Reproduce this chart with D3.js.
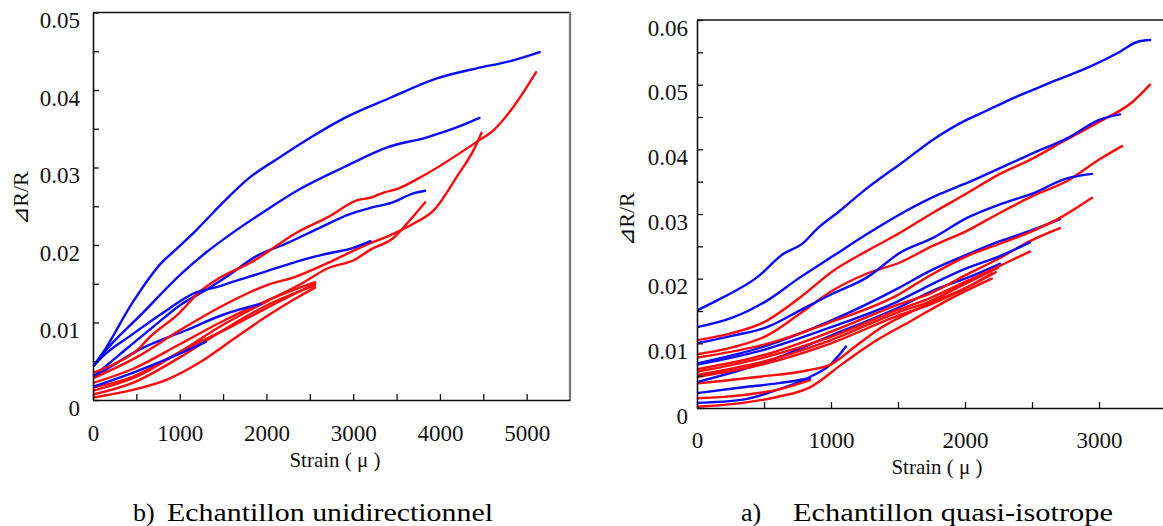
<!DOCTYPE html>
<html><head><meta charset="utf-8">
<script src="https://cdn.jsdelivr.net/npm/d3@7"></script>
<style>body{margin:0;background:#fff}</style>
</head><body>
<svg id="c" width="1163" height="526"></svg>
<script>
// ---------- DATA ----------
const xTicksUni = [0,500,1000,1500,2000,2500,3000,3500,4000,4500,5000];
const yTicksUni = [0,0.005,0.01,0.015,0.02,0.025,0.03,0.035,0.04,0.045,0.05];
const xTicksIso = [0,500,1000,1500,2000,2500,3000];
const yTicksIso = [0,0.005,0.01,0.015,0.02,0.025,0.03,0.035,0.04,0.045,0.05,0.055,0.06];
const captionUni = ["b)", "Echantillon unidirectionnel"];
const captionIso = ["a)", "Echantillon quasi-isotrope"];

// Unidirectional sample (left) — blue series
const uniB1 = [[0,0.0043],[114,0.0061],[457,0.0126],[789,0.0177],[914,0.019],[1189,0.0219],[1500,0.0255],[1794,0.0286],[2137,0.0312],[2514,0.0339],[2903,0.0364],[3429,0.039],[3966,0.0415],[4423,0.0428],[4800,0.0437],[5150,0.0449]];
const uniB2 = [[0,0.0043],[80,0.0055],[571,0.0112],[1029,0.0164],[1300,0.019],[1600,0.0215],[1943,0.0241],[2366,0.0271],[2903,0.0301],[3394,0.0326],[3851,0.0339],[4200,0.0352],[4457,0.0364]];
const uniB3 = [[0,0.003],[300,0.0058],[700,0.0095],[1000,0.0122],[1300,0.0142],[1566,0.0161],[1874,0.0185],[2251,0.0203],[2629,0.0223],[2937,0.0239],[3200,0.0248],[3429,0.0254],[3703,0.0267],[3829,0.027]];
const uniB4 = [[0,0.0043],[100,0.0055],[457,0.0085],[800,0.0112],[1189,0.0139],[1400,0.0145],[1600,0.0152],[1943,0.0164],[2331,0.0178],[2629,0.0187],[3017,0.0197],[3200,0.0205]];
const uniB5 = [[0,0.0028],[537,0.0065],[1074,0.009],[1500,0.011],[1931,0.0124]];
const uniB6 = [[0,0.0017],[457,0.0035],[900,0.0055],[1300,0.0075]];
// Unidirectional sample (left) — red series
const uniR1 = [[0,0.0035],[274,0.0048],[537,0.0067],[617,0.0077],[994,0.0112],[1223,0.0139],[1451,0.0157],[1829,0.0178],[2366,0.0217],[2709,0.0236],[3051,0.0258],[3200,0.0261],[3360,0.0268],[3474,0.0271],[3817,0.029],[4423,0.0333],[4617,0.0348],[4846,0.0378],[5109,0.0423]];
const uniR2 = [[0,0.0012],[500,0.003],[1000,0.0062],[1500,0.0097],[2000,0.0127],[2400,0.015],[2709,0.017],[3017,0.0181],[3200,0.0194],[3474,0.021],[3623,0.0228],[3829,0.0255]];
const uniR3 = [[0,0.0028],[500,0.0055],[1000,0.009],[1500,0.0122],[2000,0.0148],[2331,0.0159],[2709,0.0177],[3086,0.0197],[3474,0.0215],[3703,0.0228],[3931,0.0245],[4194,0.0288],[4400,0.0325],[4480,0.0345]];
const uniR4 = [[0,0.0022],[457,0.004],[1000,0.0072],[1500,0.0102],[2000,0.0128],[2560,0.0152]];
const uniR5 = [[0,0.0007],[457,0.0022],[1000,0.0055],[1500,0.009],[2000,0.0122],[2560,0.0148]];
const uniR6 = [[0,0.0003],[457,0.0013],[846,0.0026],[1223,0.0048],[1600,0.0077],[1989,0.0107],[2366,0.0133],[2560,0.0145]];
const uniR7 = [[0,0.0016],[457,0.003],[1000,0.0062],[1600,0.0095],[2200,0.013],[2560,0.015]];

// Quasi-isotropic sample (right) — blue series
const isoB1 = [[0,0.0151],[194,0.0171],[448,0.0202],[642,0.0238],[791,0.0255],[896,0.0277],[1067,0.0305],[1239,0.0335],[1440,0.0366],[1515,0.0377],[1761,0.0415],[2015,0.0446],[2164,0.046],[2336,0.0477],[2507,0.0492],[2657,0.0505],[2933,0.0528],[3157,0.0551],[3284,0.0566],[3381,0.0569]];
const isoB2 = [[0,0.0125],[269,0.014],[522,0.0166],[769,0.0202],[1015,0.0235],[1269,0.0269],[1493,0.0297],[1813,0.0331],[2015,0.0348],[2261,0.0371],[2507,0.0394],[2761,0.0417],[3007,0.0446],[3157,0.0454]];
const isoB3 = [[0,0.01],[269,0.0112],[522,0.0125],[769,0.0151],[1015,0.0177],[1269,0.0202],[1515,0.024],[1761,0.0263],[2015,0.0294],[2261,0.0315],[2507,0.0332],[2761,0.0355],[2948,0.0362]];
const isoB4 = [[0,0.0069],[500,0.0095],[1000,0.0135],[1500,0.0185],[1739,0.0212],[2000,0.0236],[2261,0.0258],[2500,0.0275],[2709,0.0292]];
const isoB5 = [[0,0.0067],[500,0.009],[1000,0.0125],[1500,0.0165],[1739,0.019],[2000,0.0215],[2261,0.0235],[2485,0.0256]];
const isoB6 = [[0,0.004],[500,0.007],[1000,0.0112],[1500,0.0155],[1800,0.0185],[2000,0.02],[2261,0.0223]];
const isoB7 = [[0,0.0008],[343,0.0013],[597,0.0028],[843,0.0048],[1000,0.0068],[1112,0.0095]];
const isoB8 = [[0,0.0023],[343,0.0032],[597,0.0038],[843,0.0046]];
// Quasi-isotropic sample (right) — red series
const isoR1 = [[0,0.0105],[246,0.0115],[493,0.0132],[769,0.0171],[1015,0.0212],[1269,0.0243],[1515,0.0271],[1761,0.0302],[2015,0.0332],[2261,0.0362],[2507,0.0386],[2731,0.0412],[3007,0.0443],[3254,0.0474],[3381,0.05]];
const isoR2 = [[0,0.0083],[269,0.0094],[522,0.0112],[769,0.0146],[1015,0.0182],[1269,0.0208],[1515,0.0225],[1761,0.0251],[2015,0.0274],[2261,0.0302],[2507,0.0328],[2761,0.0351],[3007,0.0385],[3172,0.0405]];
const isoR3 = [[0,0.0078],[500,0.0098],[1000,0.0133],[1500,0.0175],[1739,0.0205],[2015,0.0235],[2261,0.0254],[2507,0.0274],[2709,0.0294],[2948,0.0325]];
const isoR4 = [[0,0.006],[500,0.0082],[1000,0.0118],[1500,0.016],[1739,0.0177],[2000,0.0205],[2261,0.0232],[2485,0.0258],[2709,0.0278]];
const isoR5 = [[0,0.0056],[500,0.0078],[1000,0.011],[1500,0.0152],[1739,0.017],[2000,0.0195],[2261,0.022],[2485,0.0242]];
const isoR6 = [[0,0.0051],[500,0.0072],[1000,0.0105],[1500,0.0148],[1739,0.0165],[2000,0.0192],[2246,0.0217]];
const isoR7 = [[0,0.0048],[500,0.0068],[1000,0.01],[1500,0.0143],[1739,0.016],[2000,0.0185],[2200,0.0208]];
const isoR8 = [[0,0.0038],[448,0.0048],[821,0.0058],[1015,0.0069],[1142,0.0089],[1343,0.012],[1739,0.0162],[2000,0.0185],[2230,0.021]];
const isoR9 = [[0,0.0015],[343,0.002],[597,0.0028],[843,0.0043]];
const isoR10 = [[0,0.0002],[343,0.0008],[597,0.0017],[843,0.0032],[1090,0.0069],[1343,0.0105],[1600,0.0135],[1900,0.017],[2200,0.02]];

const uniBlue = [uniB1,uniB2,uniB3,uniB4,uniB5,uniB6];
const uniRed  = [uniR1,uniR2,uniR3,uniR4,uniR5,uniR6,uniR7];
const isoBlue = [isoB1,isoB2,isoB3,isoB4,isoB5,isoB6,isoB7,isoB8];
const isoRed  = [isoR1,isoR2,isoR3,isoR4,isoR5,isoR6,isoR7,isoR8,isoR9,isoR10];

// ---------- DRAW ----------
const svg = d3.select("#c");
const FONT = '"Liberation Serif"';
const BLUE = "#0a0aff", RED = "#ff0a0a";

function panel(o){
  const x = d3.scaleLinear().domain(o.xDom).range(o.xRange);
  const y = d3.scaleLinear().domain(o.yDom).range(o.yRange);
  const g = svg.append("g");
  const clipId = "clip"+o.id;
  svg.append("clipPath").attr("id",clipId).append("rect")
    .attr("x",o.xRange[0]).attr("y",o.yRange[1]).attr("width",o.xRange[1]-o.xRange[0]).attr("height",o.yRange[0]-o.yRange[1]);

  const line = d3.line().x(d=>x(d[0])).y(d=>y(d[1])).curve(d3.curveMonotoneX);
  const lg = g.append("g").attr("clip-path",`url(#${clipId})`);
  const all = [];
  o.blue.forEach(s=>all.push({s,c:BLUE}));
  o.red.forEach(s=>all.push({s,c:RED}));
  all.sort((a,b)=> (a.s[0][1]) - (b.s[0][1]));
  lg.selectAll("path").data(all).join("path")
    .attr("d",d=>line(d.s)).attr("fill","none").attr("stroke",d=>d.c)
    .attr("stroke-width",2.4).attr("stroke-linejoin","round").attr("stroke-linecap","round");

  g.append("line").attr("x1",o.xRange[0]).attr("x2",o.xRange[1]).attr("y1",o.yRange[1]).attr("y2",o.yRange[1])
    .attr("stroke","#111").attr("stroke-width",1.5);
  if(o.rightBorder){
    g.append("line").attr("x1",o.xRange[1]).attr("x2",o.xRange[1]).attr("y1",o.yRange[1]-0.7).attr("y2",o.yRange[0])
      .attr("stroke","#777").attr("stroke-width",2.2);
  }

  const xa = d3.axisBottom(x).tickValues(o.xTicks).tickSizeInner(-6).tickSizeOuter(0).tickPadding(o.xPad)
    .tickFormat(d=> d%1000===0 ? d3.format("d")(d) : "");
  const gx = g.append("g").attr("transform",`translate(0,${o.yRange[0]})`).call(xa);
  gx.select(".domain").attr("stroke","#111").attr("stroke-width",1.6);
  gx.selectAll(".tick line").attr("stroke","#111").attr("stroke-width",1.3);
  gx.selectAll("text").style("font-family",FONT).style("font-size","23px").attr("fill","#111");

  const ya = d3.axisLeft(y).tickValues(o.yTicks).tickSizeInner(-6).tickSizeOuter(0).tickPadding(o.yPad)
    .tickFormat(d=> Math.abs(Math.round(d*100)-d*100)<1e-9 ? (d===0?"0":d3.format(".2f")(d)) : "");
  const gy = g.append("g").attr("transform",`translate(${o.xRange[0]},0)`).call(ya);
  gy.select(".domain").attr("stroke","#111").attr("stroke-width",1.6);
  gy.selectAll(".tick line").attr("stroke","#111").attr("stroke-width",1.3);
  gy.selectAll("text").style("font-family",FONT).style("font-size","23px").attr("fill","#111").attr("dy","0.66em");

  g.append("text").attr("x",o.xTitle[0]).attr("y",o.xTitle[1]).attr("text-anchor","middle")
    .style("font-family",FONT).style("font-size","21px").attr("fill","#111").text("Strain ( μ )");

  g.append("text").attr("transform",`translate(${o.yTitle[0]},${o.yTitle[1]}) rotate(-90)`)
    .attr("text-anchor","middle").style("font-family",FONT).style("font-size","22px").attr("fill","#111")
    .text("⊿R/R");

  g.append("text").attr("x",o.cap[0]).attr("y",o.cap[2]).style("font-family",FONT).style("font-size","26px").attr("fill","#000")
    .text(o.capText[0]);
  g.append("text").attr("x",o.cap[1]).attr("y",o.cap[2]).style("font-family",FONT).style("font-size","26px").attr("fill","#000")
    .attr("textLength",o.cap[3]).attr("lengthAdjust","spacingAndGlyphs").text(o.capText[1]);
}

panel({id:"u", xDom:[0,5500], xRange:[93,570], yDom:[0,0.05], yRange:[400,12.5],
  xTicks:xTicksUni, yTicks:yTicksUni, blue:uniBlue, red:uniRed, rightBorder:true, yPad:13, xPad:25,
  xTitle:[335,467], yTitle:[28,198], cap:[133,167,521,326], capText:captionUni});

panel({id:"q", xDom:[0,3500], xRange:[697,1166], yDom:[0,0.06], yRange:[408,20],
  xTicks:xTicksIso, yTicks:yTicksIso, blue:isoBlue, red:isoRed, rightBorder:false, yPad:9, xPad:24,
  xTitle:[937,474], yTitle:[634,219], cap:[741,793,521,320], capText:captionIso});
</script>
</body></html>
